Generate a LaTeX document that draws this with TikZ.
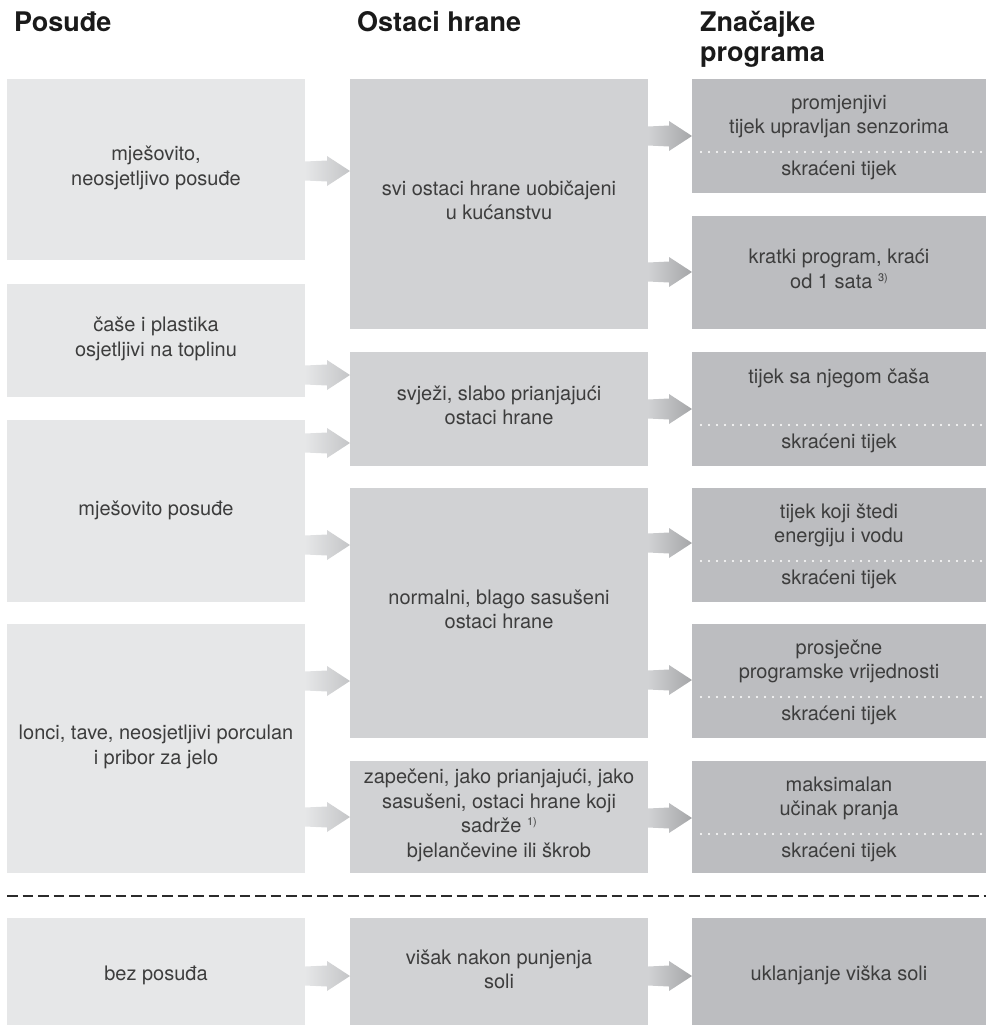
\documentclass[tikz,border=0pt]{standalone}
\usepackage{fontspec}
\setmainfont{TeX Gyre Heros}
\usetikzlibrary{calc}
\definecolor{colA}{HTML}{E6E7E8}
\definecolor{colB}{HTML}{D1D2D4}
\definecolor{colC}{HTML}{BCBDC0}
\definecolor{txt}{HTML}{3D3D3D}
\definecolor{ttl}{HTML}{1A1A1A}
\definecolor{arrA}{HTML}{C4C5C7}
\definecolor{arrB}{HTML}{A5A6A8}
\definecolor{sepc}{HTML}{2B2B2B}
\newcommand{\supnote}[1]{\raisebox{7pt}{\fontsize{11}{11}\selectfont #1}}
\newcommand{\blockarrow}[4]{%
  \coordinate (#1-#2-y) at (0,#3);
  \coordinate (#1-#2-s) at (#1.east |- #1-#2-y);
  \coordinate (#1-#2-t) at (#2.west |- #1-#2-y);
  \shade[#4] ([yshift=9.5pt]#1-#2-s) -- ([xshift=-23pt,yshift=10.5pt]#1-#2-t)
    -- ([xshift=-23pt,yshift=15pt]#1-#2-t) -- (#1-#2-t)
    -- ([xshift=-23pt,yshift=-15pt]#1-#2-t) -- ([xshift=-23pt,yshift=-10.5pt]#1-#2-t)
    -- ([yshift=-9.5pt]#1-#2-s) -- cycle;
}
\begin{document}
\begin{tikzpicture}[x=1pt,y=-1pt,
  boxbase/.style={anchor=north west, inner sep=0pt, outer sep=0pt, text=txt,
    align=center, font=\fontsize{20}{24.5}\selectfont,
    execute at begin node=\strut, execute at end node=\strut},
  boxA/.style={boxbase, fill=colA, minimum width=298pt},
  boxB/.style={boxbase, fill=colB, minimum width=298pt},
  boxC/.style={boxbase, fill=colC, minimum width=294pt},
  txtnode/.style={inner sep=0pt, outer sep=0pt, text=txt, align=center,
    font=\fontsize{20}{24.5}\selectfont,
    execute at begin node=\strut, execute at end node=\strut},
  titlenode/.style={anchor=base west, inner sep=0pt, text=ttl,
    font=\fontsize{27}{30}\selectfont\bfseries},
  arrowAB/.style={left color=colA, right color=arrA},
  arrowBC/.style={left color=colB, right color=arrB},
  dotline/.style={white, line width=2.2pt, line cap=round, dash pattern=on 0pt off 8pt},
  sepline/.style={sepc, line width=2pt, dash pattern=on 10.5pt off 5pt}
]
\useasboundingbox (0,0) rectangle (987,1028);

% titles
\node[titlenode] (t1) at (14,31) {Posuđe};
\node[titlenode] (t2) at (357,31) {Ostaci hrane};
\node[titlenode] (t3) at (700,31) {Značajke};
\node[titlenode] (t4) at (700,61) {programa};

% column 1
\node[boxA, minimum height=181pt] (a1) at (7,79) {mješovito,\\neosjetljivo posuđe};
\node[boxA, minimum height=113pt] (a2) at (7,284) {čaše i plastika\\osjetljivi na toplinu};
\node[boxA, minimum height=182pt] (a3) at (7,420) {mješovito posuđe};
\node[boxA, minimum height=249pt] (a4) at (7,624) {lonci, tave, neosjetljivi porculan\\i pribor za jelo};
\node[boxA, minimum height=107pt] (a5) at (7,918) {};

% column 2
\node[boxB, minimum height=250pt] (b1) at (350,79) {svi ostaci hrane uobičajeni\\u kućanstvu};
\node[boxB, minimum height=114pt] (b2) at (350,352) {svježi, slabo prianjajući\\ostaci hrane};
\node[boxB, minimum height=250pt] (b3) at (350,488) {normalni, blago sasušeni\\ostaci hrane};
\node[boxB, minimum height=112pt] (b4) at (350,761) {zapečeni, jako prianjajući, jako\\sasušeni, ostaci hrane koji\\sadrže \supnote{1)}\\bjelančevine ili škrob};
\node[boxB, minimum height=107pt] (b5) at (350,918) {};

% column 3
\node[boxC, minimum height=114pt] (c1) at (692,79) {};
\node[boxC, minimum height=113pt] (c2) at (692,216) {kratki program, kraći\\od 1 sata \supnote{3)}};
\node[boxC, minimum height=114pt] (c3) at (692,352) {};
\node[boxC, minimum height=114pt] (c4) at (692,488) {};
\node[boxC, minimum height=114pt] (c5) at (692,624) {};
\node[boxC, minimum height=112pt] (c6) at (692,761) {};
\node[boxC, minimum height=107pt] (c7) at (692,918) {};

% bottom row texts (sit slightly below box centre)
\node[txtnode] (a5t) at ($(a5.north)+(0,58)$) {bez posuđa};
\node[txtnode] (b5t) at ($(b5.north)+(0,55)$) {višak nakon punjenja\\soli};
\node[txtnode] (c7t) at ($(c7.north)+(0,58)$) {uklanjanje viška soli};

% column 3 texts
\node[txtnode] (c1t) at ($(c1.north)+(0,39)$) {promjenjivi\\tijek upravljan senzorima};
\node[txtnode] (c1b) at ($(c1.north)+(0,92)$) {skraćeni tijek};
\node[txtnode] (c3t) at ($(c3.north)+(0,27)$) {tijek sa njegom čaša};
\node[txtnode] (c3b) at ($(c3.north)+(0,92)$) {skraćeni tijek};
\node[txtnode] (c4t) at ($(c4.north)+(0,39)$) {tijek koji štedi\\energiju i vodu};
\node[txtnode] (c4b) at ($(c4.north)+(0,92)$) {skraćeni tijek};
\node[txtnode] (c5t) at ($(c5.north)+(0,39)$) {prosječne\\programske vrijednosti};
\node[txtnode] (c5b) at ($(c5.north)+(0,92)$) {skraćeni tijek};
\node[txtnode] (c6t) at ($(c6.north)+(0,39)$) {maksimalan\\učinak pranja};
\node[txtnode] (c6b) at ($(c6.north)+(0,92)$) {skraćeni tijek};

% dotted separators
\foreach \b in {c1,c3,c4,c5,c6}{
  \draw[dotline] ($(\b.north west)+(9,73)$) -- ($(\b.north east)+(-2,73)$);
}

% arrows column 1 -> column 2
\blockarrow{a1}{b1}{171}{arrowAB}
\blockarrow{a2}{b2}{375}{arrowAB}
\blockarrow{a3}{b2}{443}{arrowAB}
\blockarrow{a3}{b3}{545}{arrowAB}
\blockarrow{a4}{b3}{681}{arrowAB}
\blockarrow{a4}{b4}{817}{arrowAB}
\blockarrow{a5}{b5}{976}{arrowAB}

% arrows column 2 -> column 3
\blockarrow{b1}{c1}{136}{arrowBC}
\blockarrow{b1}{c2}{272}{arrowBC}
\blockarrow{b2}{c3}{409}{arrowBC}
\blockarrow{b3}{c4}{543}{arrowBC}
\blockarrow{b3}{c5}{680}{arrowBC}
\blockarrow{b4}{c6}{818}{arrowBC}
\blockarrow{b5}{c7}{976}{arrowBC}

% dashed separator
\coordinate (sepy) at (0,896);
\draw[sepline] (a4.west |- sepy) -- (c6.east |- sepy);
\end{tikzpicture}
\end{document}
